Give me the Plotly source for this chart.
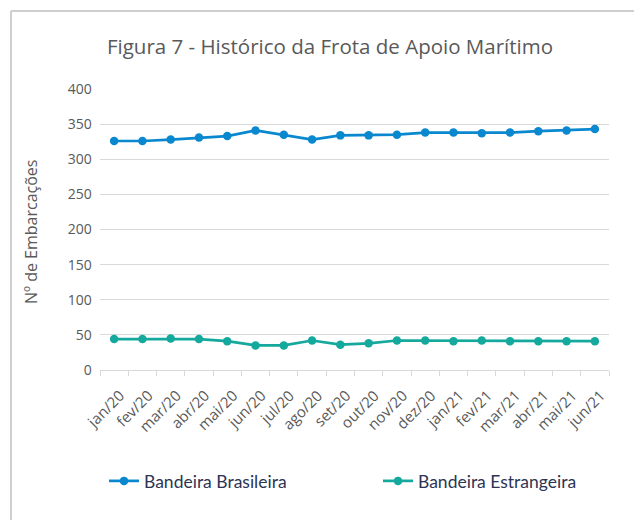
import plotly.graph_objects as go

meses = ["jan/20", "fev/20", "mar/20", "abr/20", "mai/20", "jun/20", "jul/20", "ago/20", "set/20",
         "out/20", "nov/20", "dez/20", "jan/21", "fev/21", "mar/21", "abr/21", "mai/21", "jun/21"]
bandeira_brasileira = [326, 326, 328, 331, 333, 341, 335, 328, 334, 334, 335, 338, 338, 337, 338, 340, 341, 343]
bandeira_estrangeira = [44, 44, 45, 44, 41, 35, 35, 42, 36, 38, 42, 42, 41, 42, 41, 41, 41, 41]

AZUL = "#0a88cf"
VERDE = "#14a99c"
CINZA = "#595959"

fig = go.Figure()
fig.add_trace(go.Scatter(x=meses, y=bandeira_brasileira, mode="lines+markers", name="Bandeira Brasileira",
                         line=dict(color=AZUL, width=2.7), marker=dict(color=AZUL, size=8.5),
                         legend="legend", showlegend=True))
fig.add_trace(go.Scatter(x=meses, y=bandeira_estrangeira, mode="lines+markers", name="Bandeira Estrangeira",
                         line=dict(color=VERDE, width=2.7), marker=dict(color=VERDE, size=8.5),
                         legend="legend2", showlegend=True))

PH = 281.0
PW = 509.0
leg_font = dict(family="Lato", size=17.5, color="#2c3454")
leg_y = -(481 - 370) / PH

fig.update_layout(
    width=634, height=520,
    showlegend=True,
    paper_bgcolor="white", plot_bgcolor="white",
    margin=dict(l=100, r=25, t=89, b=150, autoexpand=False),
    font=dict(family="Open Sans", color=CINZA),
    title=dict(text="Figura 7 - Histórico da Frota de Apoio Marítimo", x=330 / 634, xanchor="center",
               y=1 - 47 / 520, yanchor="middle",
               font=dict(family="Open Sans", size=20.5, color=CINZA)),
    xaxis=dict(type="category", range=[-0.5, 17.5], showgrid=False, showline=True, linecolor="#d9d9d9",
               linewidth=1, ticks="outside", tickson="boundaries", ticklen=5, tickcolor="#d9d9d9",
               tickangle=-45, tickfont=dict(size=15, color=CINZA), automargin=False,
               ticklabelshift=6, ticklabelstandoff=10),
    yaxis=dict(range=[0, 400], dtick=50, showgrid=True, gridcolor="#d9d9d9", gridwidth=1,
               zeroline=False, tickfont=dict(size=14, color=CINZA), ticksuffix="  ", automargin=False),
    legend=dict(x=(104 - 100) / PW, xanchor="left", y=leg_y, yanchor="middle", font=leg_font,
                bgcolor="rgba(0,0,0,0)", visible=True),
    legend2=dict(x=(378 - 100) / PW, xanchor="left", y=leg_y, yanchor="middle", font=leg_font,
                 bgcolor="rgba(0,0,0,0)", visible=True),
    annotations=[
        dict(text="Nº de Embarcações", xref="paper", yref="paper", x=(31 - 100) / PW, y=(370 - 232) / PH,
             xanchor="center", yanchor="middle", textangle=-90, showarrow=False,
             font=dict(family="Open Sans", size=16, color=CINZA)),
    ],
    shapes=[
        dict(type="line", xref="paper", yref="paper", x0=(11 - 100) / PW, x1=1.1, y0=(370 - 11) / PH, y1=(370 - 11) / PH,
             line=dict(color="#cfcfcf", width=2)),
        dict(type="line", xref="paper", yref="paper", x0=(11 - 100) / PW, x1=(11 - 100) / PW, y0=(370 - 11) / PH, y1=-0.6,
             line=dict(color="#cfcfcf", width=2)),
    ],
)

fig.write_html("out.html", config={"displayModeBar": False},
               post_script="document.body.style.margin='0';document.body.style.overflow='hidden';")
